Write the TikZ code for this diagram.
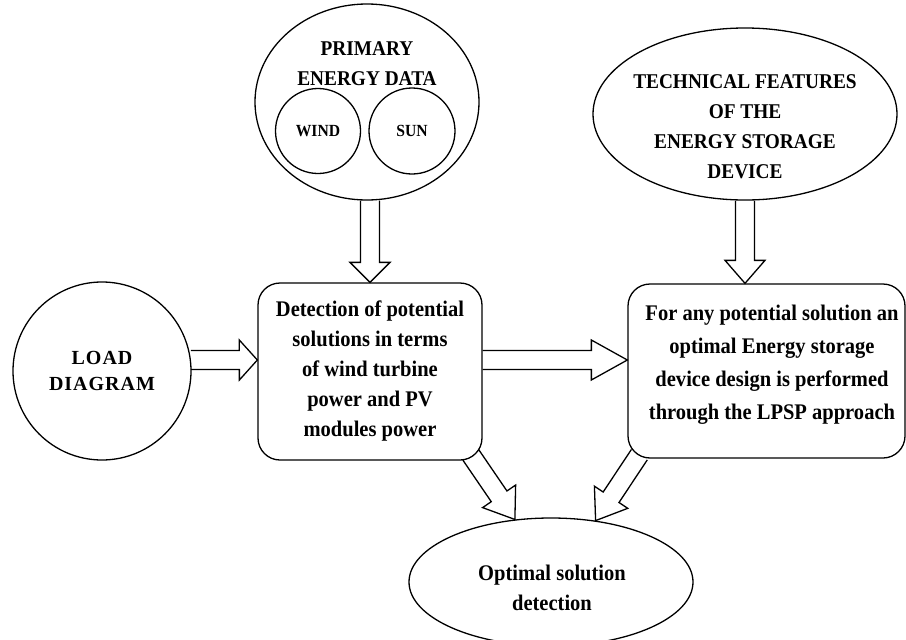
\documentclass[tikz,border=0pt]{standalone}
\usepackage{fontspec}
\setmainfont{Liberation Serif}
\newfontfamily\condfont{Liberation Serif}[FakeStretch=0.92]
\usetikzlibrary{calc,shapes.geometric}

\tikzset{
  bubble/.style={draw, line width=1.3pt, ellipse, inner sep=0pt},
  roundbox/.style={draw, line width=1.3pt, rounded corners=22pt, inner sep=0pt},
  boldtext/.style={font=\condfont\bfseries\fontsize{22.3pt}{30pt}\selectfont, align=center},
  captext/.style={font=\condfont\bfseries\fontsize{21pt}{30pt}\selectfont, align=center},
  arrowline/.style={draw, line width=1.3pt, line join=miter},
}

% hollow block arrow: [head length]{from}{to}
\newcommand{\blockarrow}[3][20pt]{%
  \draw[arrowline] ($(#2)!9.5pt!90:(#3)$)
    -- ($(#3)!#1!(#2)!9.5pt!90:(#3)$)
    -- ($(#3)!#1!(#2)!20pt!90:(#3)$)
    -- (#3)
    -- ($(#3)!#1!(#2)!20pt!-90:(#3)$)
    -- ($(#3)!#1!(#2)!9.5pt!-90:(#3)$)
    -- ($(#2)!9.5pt!-90:(#3)$);
}

\begin{document}
\begin{tikzpicture}[x=1pt,y=-1pt]
  \useasboundingbox (0,0) rectangle (906,640);

  % inputs
  \node[bubble, minimum width=224pt, minimum height=196pt] (prim) at (367,102) {};
  \node[captext] at (367,64) {PRIMARY\\ENERGY DATA};
  \node[bubble, circle, minimum size=85pt, font=\condfont\bfseries\fontsize{17pt}{18pt}\selectfont] (wind) at (318,131) {WIND};
  \node[bubble, circle, minimum size=86pt, font=\condfont\bfseries\fontsize{17pt}{18pt}\selectfont] (sun) at (412,131) {SUN};

  \node[bubble, minimum width=304pt, minimum height=172pt] (tech) at (745,114) {};
  \node[captext] at (745,127) {TECHNICAL FEATURES\\OF THE\\ENERGY STORAGE\\DEVICE};

  \node[bubble, circle, minimum size=178pt, align=center,
        font=\bfseries\fontsize{20pt}{26pt}\selectfont\addfontfeature{LetterSpace=5}] (load) at (102,371) {LOAD\\DIAGRAM};

  % processing steps
  \node[roundbox, boldtext, minimum width=224pt, minimum height=177pt] (det) at (370,371.5)
    {Detection of potential\\solutions in terms\\of wind turbine\\power and PV\\modules power};
  \node[roundbox, minimum width=277pt, minimum height=174pt] (lpsp) at (766.5,371) {};
  \node[boldtext, font=\condfont\bfseries\fontsize{22.3pt}{33pt}\selectfont] at (772,365)
    {For any potential solution an\\optimal Energy storage\\device design is performed\\through the LPSP approach};

  \node[bubble, minimum width=284pt, minimum height=128pt] (opt) at (551,582) {};
  \node[boldtext] at (552,588) {Optimal solution\\detection};

  % arrows
  \coordinate (row) at (0,360);
  \coordinate (detin) at (det.west |- row);
  \coordinate (detout) at (det.east |- row);
  \coordinate (lpspin) at (lpsp.west |- row);
  \coordinate (primout) at (det.north |- prim.south);
  \coordinate (techin) at (tech.south |- lpsp.north);
  \coordinate (detdown) at ([shift={(-12pt,6pt)}]det.south east);
  \coordinate (lpspdown) at ([shift={(12pt,4pt)}]lpsp.south west);

  \blockarrow[18pt]{load.7}{detin}
  \blockarrow[36pt]{detout}{lpspin}
  \blockarrow[20pt]{primout}{det.north}
  \blockarrow[23pt]{tech.south}{techin}
  \blockarrow[28pt]{detdown}{opt.120}
  \blockarrow[28pt]{lpspdown}{opt.54}
\end{tikzpicture}
\end{document}
